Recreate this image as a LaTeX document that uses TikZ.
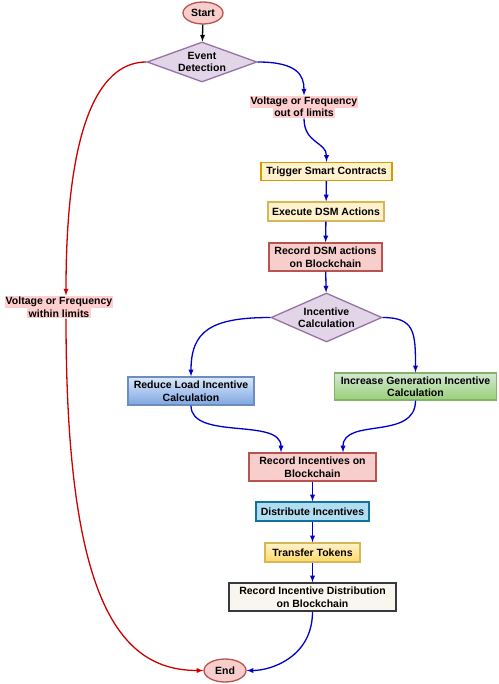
\documentclass[tikz,border=0pt]{standalone}
\usepackage{fontspec}
\setmainfont{Liberation Sans}
\usetikzlibrary{shapes.geometric}
\definecolor{bleu}{RGB}{0,0,204}
\definecolor{rouge}{RGB}{204,0,0}
\definecolor{rosefond}{RGB}{248,206,204}
\definecolor{rosetrait}{RGB}{184,84,80}
\definecolor{limfond}{RGB}{255,206,206}
\definecolor{violetfond}{RGB}{225,213,231}
\definecolor{violettrait}{RGB}{150,115,166}
\definecolor{jaunefond}{RGB}{255,242,204}
\definecolor{jaunetrait}{RGB}{214,182,86}
\definecolor{orangetrait}{RGB}{215,155,0}
\definecolor{jaunefonce}{RGB}{255,217,102}
\definecolor{bleuclair}{RGB}{218,232,252}
\definecolor{bleufonce}{RGB}{126,166,224}
\definecolor{bleutrait}{RGB}{108,142,191}
\definecolor{vertclair}{RGB}{213,232,212}
\definecolor{vertfonce}{RGB}{151,208,119}
\definecolor{verttrait}{RGB}{130,179,102}
\definecolor{cyanfond}{RGB}{177,221,240}
\definecolor{cyantrait}{RGB}{16,115,158}
\definecolor{cremefond}{RGB}{249,247,237}
\definecolor{gristrait}{RGB}{54,57,61}
\setlength{\fboxsep}{1.2pt}
\newcommand{\surligne}[1]{\colorbox{limfond}{#1}}
\begin{document}
\begin{tikzpicture}
    [x=1pt,y=-1pt,
    every node/.style={font=\fontsize{10.5}{12.5}\selectfont\bfseries,align=center},%
    terminal/.style={ellipse,draw=rosetrait,fill=rosefond,line width=1.3pt,
      inner sep=0pt},
    decision/.style={diamond,draw=violettrait,fill=violetfond,line width=1.3pt,
      inner sep=0pt,aspect=2.5},
    limite/.style={inner sep=0pt}]
    \tikzstyle{boite}=[rectangle,line width=1.3pt,inner sep=0pt]
    \useasboundingbox (0,0) rectangle (498,684);
    \node[terminal,minimum width=40,minimum height=22] (S) at (203,13) {Start};
    \node[decision,minimum width=110,minimum height=40] (ED) at (202,62)
    {Event\\Detection};
    \node[limite] (VO) at (304,107) {\surligne{Voltage or Frequency}\\
      \surligne{out of limits}};
    \node[limite] (VW) at (59,307) {\surligne{Voltage or Frequency}\\
      \surligne{within limits}};
    \node[boite,draw=orangetrait,fill=jaunefond,minimum width=131,
    minimum height=18] (TSC) at (326.5,171.5) {Trigger Smart Contracts};
    \node[boite,draw=jaunetrait,fill=jaunefond,minimum width=116,
    minimum height=19] (EDA) at (326,211.5) {Execute DSM Actions};
    \node[boite,draw=rosetrait,fill=rosefond,minimum width=113,
    minimum height=28] (RDSM) at (325.5,257) {Record DSM actions\\on Blockchain};
    \node[decision,aspect=2.2,minimum width=111,minimum height=49] (IC) at
    (326.5,317.5) {Incentive\\Calculation};
    \node[boite,draw=bleutrait,top color=bleuclair,bottom color=bleufonce,
    minimum width=126,minimum height=28] (RL) at (191,391)
    {Reduce Load Incentive\\Calculation};
    \node[boite,draw=verttrait,top color=vertclair,bottom color=vertfonce,
    minimum width=162,minimum height=27] (IG) at (415.5,386.5)
    {Increase Generation Incentive\\Calculation};
    \node[boite,draw=rosetrait,fill=rosefond,minimum width=127,
    minimum height=28] (RI) at (312.5,467) {Record Incentives on\\Blockchain};
    \node[boite,draw=cyantrait,fill=cyanfond,minimum width=113,
    minimum height=19] (DI) at (312.5,511.5) {Distribute Incentives};
    \node[boite,draw=jaunetrait,top color=jaunefond,bottom color=jaunefonce,
    minimum width=95,minimum height=19] (TT) at (312.5,552.5) {Transfer Tokens};
    \node[boite,draw=gristrait,fill=cremefond,minimum width=167,
    minimum height=28] (RID) at (312.5,597)
    {Record Incentive Distribution\\on Blockchain};
    \node[terminal,minimum width=42,minimum height=23] (E) at (225,670.5) {End};

    \draw[->,>=latex,line width=1.3pt] (S) -- (ED);
    \draw[->,>=latex,rouge,line width=1.3pt] (ED.west) .. controls +(-42,0)
    and +(0,-183) .. ([xshift=7pt]VW.north);
    \draw[->,>=latex,bleu,line width=1.3pt] (ED.east) .. controls +(40,0)
    and +(0,-20) .. (VO.north);
    \draw[->,>=latex,bleu,line width=1.3pt] (VO.south) .. controls +(0,25)
    and +(0,-20) .. (TSC.north);

    \draw[->,>=latex,bleu,line width=1.3pt] (TSC) -- (EDA);
    \draw[->,>=latex,bleu,line width=1.3pt] (EDA) -- (RDSM);
    \draw[->,>=latex,bleu,line width=1.3pt] (RDSM) -- (IC);

    \draw[->,>=latex,bleu,line width=1.3pt] (IC.west) .. controls +(-60,0)
    and +(0,-45) .. (RL.north);
    \draw[->,>=latex,bleu,line width=1.3pt] (IC.east) .. controls +(32,0)
    and +(0,-40) .. (IG.north);
    \draw[->,>=latex,bleu,line width=1.3pt] (RL.south) .. controls +(0,35)
    and +(0,-35) .. ([xshift=-31.5pt]RI.north);
    \draw[->,>=latex,bleu,line width=1.3pt] (IG.south) .. controls +(0,40)
    and +(0,-35) .. ([xshift=30.5pt]RI.north);

    \draw[->,>=latex,bleu,line width=1.3pt] (RI) -- (DI);
    \draw[->,>=latex,bleu,line width=1.3pt] (DI) -- (TT);
    \draw[->,>=latex,bleu,line width=1.3pt] (TT) -- (RID);

    \draw[->,>=latex,bleu,line width=1.3pt] (RID.south) .. controls +(0,45)
    and +(25,0) .. (E.east);
    \draw[->,>=latex,rouge,line width=1.3pt] ([xshift=7pt]VW.south) .. controls
    +(0,280) and +(-85,0) .. (E.west);
  \end{tikzpicture}
\end{document}
